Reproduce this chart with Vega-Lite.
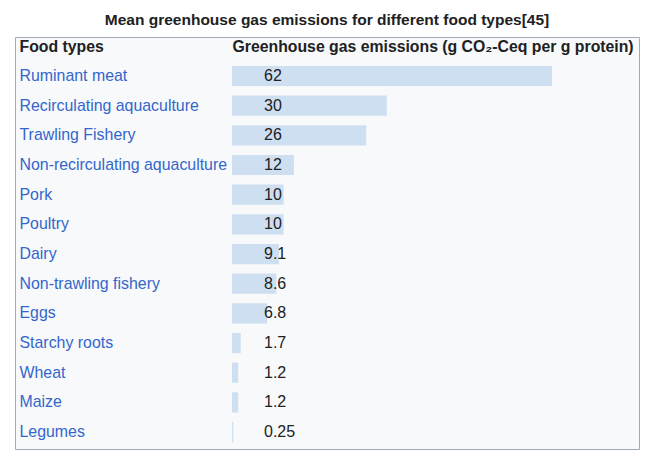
{
  "$schema": "https://vega.github.io/schema/vega-lite/v6.json",
  "width": 624,
  "height": 412,
  "autosize": {"type": "none"},
  "padding": {"left": 15, "top": 37, "right": 18, "bottom": 13},
  "background": "#ffffff",
  "title": {
    "text": "Mean greenhouse gas emissions for different food types[45]",
    "font": "Liberation Sans",
    "fontSize": 15.5,
    "fontWeight": "bold",
    "color": "#202122",
    "anchor": "middle",
    "frame": "group",
    "baseline": "alphabetic",
    "offset": 16,
    "dy": 19
  },
  "config": {
    "view": {"fill": "#f8f9fa", "stroke": "#a2a9b1", "strokeWidth": 1},
    "font": "Liberation Sans"
  },
  "data": {
    "values": [
      {"food": "Ruminant meat", "value": 62},
      {"food": "Recirculating aquaculture", "value": 30},
      {"food": "Trawling Fishery", "value": 26},
      {"food": "Non-recirculating aquaculture", "value": 12},
      {"food": "Pork", "value": 10},
      {"food": "Poultry", "value": 10},
      {"food": "Dairy", "value": 9.1},
      {"food": "Non-trawling fishery", "value": 8.6},
      {"food": "Eggs", "value": 6.8},
      {"food": "Starchy roots", "value": 1.7},
      {"food": "Wheat", "value": 1.2},
      {"food": "Maize", "value": 1.2},
      {"food": "Legumes", "value": 0.25}
    ]
  },
  "encoding": {
    "y": {
      "field": "food",
      "type": "nominal",
      "sort": null,
      "scale": {"paddingInner": 0, "paddingOuter": 0.443, "align": 0.92},
      "axis": {
        "orient": "left",
        "title": "Food types",
        "titleAngle": 0,
        "titleX": 4,
        "titleY": 9,
        "titleAlign": "left",
        "titleBaseline": "middle",
        "titleFont": "Liberation Sans",
        "titleFontSize": 15.8,
        "titleFontWeight": "bold",
        "titleColor": "#202122",
        "domain": false,
        "ticks": false,
        "tickSize": 0,
        "grid": false,
        "labelPadding": -4,
        "labelAlign": "left",
        "labelBaseline": "middle",
        "labelFont": "Liberation Sans",
        "labelFontSize": 15.9,
        "labelColor": "#3366cc",
        "labelLimit": 0
      }
    }
  },
  "layer": [
    {
      "mark": {"type": "bar", "color": "#cedff2", "height": {"band": 0.68}},
      "encoding": {
        "x": {
          "field": "value",
          "type": "quantitative",
          "scale": {"domain": [-42.04, 78.86], "zero": false, "nice": false},
          "axis": {
            "orient": "top",
            "title": "Greenhouse gas emissions (g CO₂-Ceq per g protein)",
            "titleX": 217,
            "titleY": 9,
            "titleAlign": "left",
            "titleAnchor": null,
            "titleBaseline": "middle",
            "titleFont": "Liberation Sans",
            "titleFontSize": 15.8,
            "titleFontWeight": "bold",
            "titleColor": "#202122",
            "labels": false,
            "ticks": false,
            "domain": false,
            "grid": false
          }
        },
        "x2": {"datum": 0}
      }
    },
    {
      "mark": {"type": "text", "align": "left", "baseline": "middle", "dx": 32, "fontSize": 16, "color": "#202122", "font": "Liberation Sans"},
      "encoding": {
        "x": {"datum": 0, "type": "quantitative"},
        "text": {"field": "value", "type": "quantitative", "format": "~g"}
      }
    }
  ]
}
